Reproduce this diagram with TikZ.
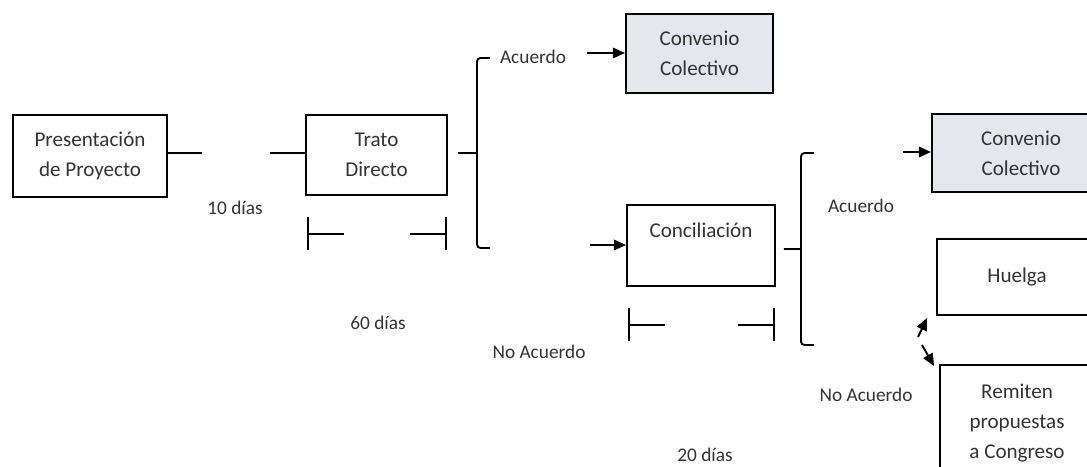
\documentclass[tikz,border=0pt]{standalone}
\usepackage{fontspec}
\setmainfont{Carlito}
\usetikzlibrary{calc, arrows.meta}

\definecolor{texto}{HTML}{333333}
\definecolor{convenio}{HTML}{E6E6EE}

\tikzset{
	caja/.style = {draw, line width=1.1pt, align=center, text=texto, font=\fontsize{12}{17}\selectfont},
	etiqueta/.style = {text=texto, font=\fontsize{11}{13}\selectfont},
	flecha/.style = {-{Triangle[length=7pt, width=6pt]}, line width=1.1pt},
}

\begin{document}
\begin{tikzpicture}[x=0.02cm, y=-0.02cm, line width=1.1pt]
	\useasboundingbox (0,0) rectangle (1087,466);
	\clip (0,0) rectangle (1087,466);

	\def\plazo#1{\draw ($(#1.south west)+(3,21)$) -- ++(0,33) ($(#1.south west)+(3,38)$) -- ++(36,0)
		($(#1.south east)+(-2,21)$) -- ++(0,33) ($(#1.south east)+(-2,38)$) -- ++(-36,0);}
	\def\llave#1#2{\draw[rounded corners=2pt] ($(#1)+(13,-#2)$) -- ++(-13,0) -- ($(#1)+(0,#2)$) -- ++(13,0);}

	% cajas
	\node[caja, minimum width=3.08cm, minimum height=1.64cm] (pres) at (90,156) {Presentación\\de Proyecto};
	\node[caja, minimum width=2.82cm, minimum height=1.60cm] (trato) at (376.5,155) {Trato\\Directo};
	\node[caja, fill=convenio, minimum width=2.94cm, minimum height=1.58cm] (conv1) at (699.5,53.5) {Convenio\\Colectivo};
	\node[caja, minimum width=2.96cm, minimum height=1.62cm] (concil) at (701,245.5) {Conciliación\\ \mbox{}};
	\node[caja, fill=convenio, minimum width=3.56cm, minimum height=1.56cm] (conv2) at (1021,153) {Convenio\\Colectivo};
	\node[caja, minimum width=3.2cm, minimum height=1.52cm] (huelga) at (1017,277) {Huelga};
	\node[caja, minimum width=3.08cm, minimum height=2.32cm] (remiten) at (1017,423) {Remiten\\propuestas\\a Congreso};

	% etiquetas
	\node[etiqueta] (d10) at (235,208) {10 días};
	\node[etiqueta] (d60) at (378,323) {60 días};
	\node[etiqueta] (d20) at (705,455) {20 días};
	\node[etiqueta] (ac1) at (533,57) {Acuerdo};
	\node[etiqueta] (nac1) at (539,352) {No Acuerdo};
	\node[etiqueta] (ac2) at (861,206) {Acuerdo};
	\node[etiqueta] (nac2) at (866,395) {No Acuerdo};

	% lineas
	\coordinate (e1) at (202,153);
	\coordinate (e2) at (270,153);
	\draw (pres.east |- e1) -- (e1);
	\draw (e2) -- (trato.west |- e2);

	\coordinate (p1) at (477,153);
	\coordinate (p2) at (801,249);
	\draw ($(trato.east)+(10,-2)$) -- (p1);
	\draw ($(concil.east)+(8,3.5)$) -- (p2);
	\llave{p1}{95}
	\llave{p2}{96}

	\plazo{trato}
	\plazo{concil}

	% flechas
	\coordinate (s1) at (587,53);
	\coordinate (s2) at (590,245);
	\coordinate (s3) at (903,152);
	\coordinate (s4) at (918,337);
	\coordinate (s5) at (922,345);
	\draw[flecha] (s1) -- (conv1.west |- s1);
	\draw[flecha] (s2) -- (concil.west |- s2);
	\draw[flecha] (s3) -- (conv2.west |- s3);
	\draw[flecha] (s4) -- ($(huelga.south west)+(-9,2)$);
	\draw[flecha] (s5) -- ($(remiten.north west)+(-5,2)$);
\end{tikzpicture}
\end{document}
